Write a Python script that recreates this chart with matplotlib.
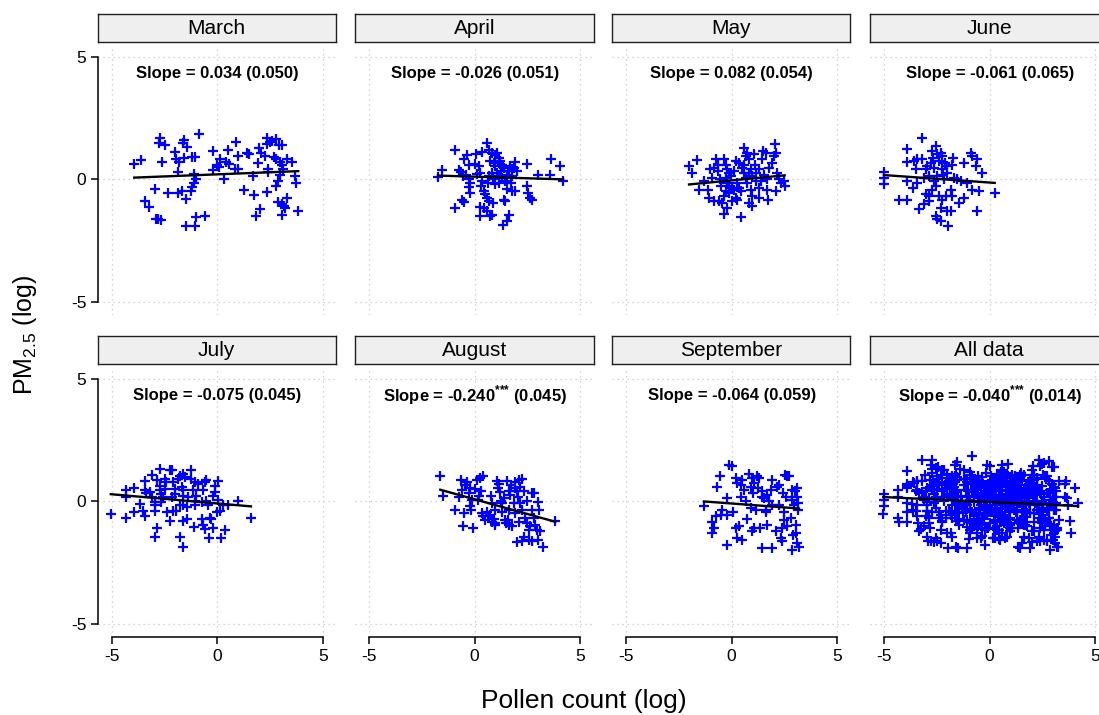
import matplotlib.pyplot as plt
import numpy as np

plt.rcParams['font.family'] = ['Liberation Sans', 'DejaVu Sans']
plt.rcParams['mathtext.fontset'] = 'custom'
plt.rcParams['mathtext.rm'] = 'Liberation Sans'
plt.rcParams['mathtext.bf'] = 'Liberation Sans:bold'
plt.rcParams['axes.unicode_minus'] = False

# panel titles and fit results (slope, s.e. from the labels; intercept)
panels = ['March', 'April', 'May', 'June', 'July', 'August', 'September', 'All data']
slope_labels = ['Slope = 0.034 (0.050)', 'Slope = -0.026 (0.051)', 'Slope = 0.082 (0.054)',
                'Slope = -0.061 (0.065)', 'Slope = -0.075 (0.045)',
                r'Slope = -0.240$^{\mathbf{{*}{*}{*}}}$ (0.045)', 'Slope = -0.064 (0.059)',
                r'Slope = -0.040$^{\mathbf{{*}{*}{*}}}$ (0.014)']
slopes = [0.034, -0.026, 0.082, -0.061, -0.075, -0.240, -0.064, -0.040]
intercepts = [0.21, 0.115, -0.037, -0.125, -0.08, 0.089, -0.082, -0.02]

march_x = [-3.93, -3.63, -2.72, -2.76, -2.45, -2.62, -2.01, -1.93, -1.82, -1.85, -1.56, -1.64, -1.41, -1.56,
           -1.17, -1.06, -0.85, -1.09, -0.98, -1.11, -1.17, -1.26, -2.95, -3.40, -3.24, -2.31, -1.85, -1.66,
           -1.50, -2.91, -2.80, -2.64, -1.50, -1.06, -0.98, -0.58, -0.19, -0.19, -0.03, 0.13, 0.08, 0.30,
           0.52, 0.44, 0.55, 0.84, 1.00, 0.88, 1.00, 1.42, 1.50, 1.26, 1.71, 1.74, 1.94, 1.99, 2.10, 2.26,
           2.34, 2.37, 2.50, 2.58, 2.81, 2.94, 3.05, 2.69, 2.81, 2.97, 3.05, 3.29, 3.55, 2.39, 2.42, 3.13,
           3.00, 2.89, 2.81, 2.34, 2.86, 3.05, 3.21, 3.29, 3.18, 2.02, 1.86, 3.08, 3.68, 3.73, 3.84]
march_y = [0.64, 0.79, 1.70, 1.50, 1.39, 0.72, 1.13, 0.84, 0.72, 0.30, 1.63, 1.50, 1.33, 0.88,
           0.91, 0.91, 1.85, 0.23, 0.03, -0.14, -0.31, -0.45, -0.38, -0.88, -1.13, -0.57, -0.54, -0.48,
           -0.78, -1.61, -1.63, -1.66, -1.90, -1.90, -1.54, -1.50, 1.16, 0.38, 0.61, 0.82, 0.50, 0.00,
           1.20, 0.71, 0.64, 0.41, 0.41, 1.54, 0.95, 1.09, 1.05, -0.41, 0.16, -0.65, 0.68, 1.27, 1.09, 0.95,
           1.70, 1.43, 1.52, 1.59, 1.66, 1.39, 1.39, 0.91, 0.84, 0.72, 0.61, 0.82, 0.73, 0.41, 0.31, 0.41,
           0.20, -0.07, -0.27, -0.52, -0.93, -1.02, -1.16, -0.75, -1.09, -1.22, -1.50, -1.47, 0.14, -0.16, -1.27]

april_x = [-1.74, -1.55, -0.95, -0.52, -0.36, -0.28, -0.76, -0.63, -0.57, -0.39, -0.28, -0.21, -0.25, -0.21,
           -0.60, -0.52, -0.92, 0.08, 0.35, 0.58, 0.66, 0.03, 0.19, 0.11, 0.27, 0.35, 0.32, 0.43, 0.51, 0.58,
           0.66, 0.43, 0.27, 0.27, 0.58, 0.74, 0.82, 0.85, 0.82, 0.95, 1.06, 1.14, 0.74, 0.90, 0.98, 1.14,
           1.22, 1.30, 1.37, 1.26, 1.06, 0.82, 0.66, 1.14, 1.30, 1.42, 1.14, 1.53, 1.69, 1.77, 1.93, 2.01,
           1.77, 1.74, 1.53, 1.77, 1.93, 1.37, 1.45, 1.64, 1.53, 1.34, 2.48, 2.48, 2.53, 2.64, 2.72, 3.00,
           3.55, 3.62, 4.06, 4.19, 0.63, 0.85, 0.98, 1.61, 1.85]
april_y = [0.10, 0.38, 1.20, 0.82, 0.98, 0.59, 0.37, 0.30, 0.14, 0.20, 0.00, -0.14, -0.30, -0.54,
           -0.82, -0.93, -1.16, 1.02, 1.12, 1.47, 1.20, 0.64, 0.57, 0.24, 0.27, -0.07, -0.27, -0.48, -0.61, -0.75,
           -0.88, -1.16, -1.12, -1.50, -1.29, -1.50, -1.43, -0.95, 1.09, 0.98, 1.09, 0.88, 0.75, 0.68, 0.54, 0.68,
           0.75, 0.61, 0.48, 0.34, 0.27, 0.27, 0.14, 0.14, 0.07, -0.07, -0.14, 0.20, 0.54, 0.41, 0.71, 0.34,
           0.14, -0.14, -0.38, -0.48, -0.48, -0.84, -0.88, -1.43, -1.70, -1.86, 0.65, -0.27, -0.54, -0.75, -0.82, 0.20,
           0.20, 0.82, 0.54, -0.07, -0.14, 0.03, -0.20, 0.34, 0.48]

may_x = [-2.02, -1.86, -1.63, -1.55, -1.31, -1.11, -1.03, -0.92, -0.84, -0.73, -0.63, -0.63, -0.57, -0.36,
         -0.28, -0.21, -0.13, -0.05, -0.25, -0.21, -0.28, -0.13, -0.36, -0.60, -1.07, -0.84, -0.44, -0.21,
         -0.36, 0.03, 0.19, 0.27, 0.43, 0.03, 0.11, 0.27, 0.35, 0.43, 0.19, 0.35, 0.47, 0.58, 0.66, 0.74,
         0.82, 0.58, 0.66, 0.74, 0.82, 0.90, 0.98, 1.06, 1.11, 1.14, 1.17, 0.90, 0.98, 0.82, 0.98, 1.30,
         1.30, 1.42, 1.49, 1.61, 1.66, 1.69, 1.72, 1.77, 1.93, 2.01, 2.04, 2.09, 2.09, 2.16, 2.24, 2.32,
         2.48, 2.51, 1.30, 1.53, 0.58, 1.37, 0.11, -0.13, -0.52]
may_y = [0.54, 0.27, 0.78, -0.41, -0.07, -0.41, 0.44, 0.07, 0.48, 0.82, 0.61, 0.34, 0.00, 0.82,
         0.61, 0.41, 0.27, 0.14, 0.07, -0.14, -0.48, -0.54, -0.68, -0.88, -0.75, -0.88, -0.95, -1.16,
         -1.40, -0.88, -0.75, -0.84, -1.52, -0.34, -0.41, -0.14, -0.34, -0.48, 0.75, 0.68, 0.48, 1.29, 0.95, 1.09,
         0.82, 0.27, 0.07, -0.14, 0.27, 0.41, 0.14, 1.02, 0.61, 0.27, -0.07, -0.41, -0.68, -0.95, -1.09, -0.75,
         -0.34, 0.82, 1.16, 1.09, 0.00, -0.41, -0.82, 0.48, 0.68, 0.95, 1.43, 1.09, -0.48, 0.27, 0.00, -0.14,
         -0.07, -0.27, 0.41, 0.20, 0.61, -0.07, 0.34, -0.27, -0.27]

june_x = [-5.01, -5.01, -5.01, -3.90, -3.90, -3.90, -4.30, -3.90, -3.62, -3.59, -3.43, -3.43, -3.22, -3.19,
          -3.35, -3.11, -3.03, -2.95, -2.88, -2.80, -2.72, -2.69, -2.64, -2.56, -2.64, -2.56, -2.72, -2.88,
          -2.88, -2.48, -2.40, -2.32, -2.24, -2.24, -2.20, -2.16, -2.13, -2.04, -2.01, -2.09, -2.24, -2.32,
          -2.56, -2.48, -2.32, -1.97, -2.04, -1.85, -1.85, -1.77, -1.72, -1.69, -1.77, -1.45, -1.22, -1.22,
          -1.06, -0.90, -0.82, -0.82, -0.66, -0.58, -0.51, -0.35, -0.58, 0.24, -3.51, -3.11, -2.48, -1.53,
          -1.37, -3.03, -2.40]
june_y = [0.30, 0.07, -0.20, 1.25, 0.71, -0.07, -0.82, -0.82, -0.34, 0.75, 0.82, -0.14, 1.70, 0.82,
          -1.22, -1.02, -0.61, 0.54, 0.14, 0.68, 1.16, 0.88, 0.48, 1.36, -0.07, -0.27, -0.41, -0.68,
          -0.88, 1.02, 0.75, 1.09, 0.95, 0.41, 0.20, 0.00, 0.68, 0.54, 0.27, -0.68, -0.82, -1.16,
          -1.50, -1.63, -1.70, -1.88, -1.29, -1.29, -0.41, 0.61, 0.88, 0.07, -0.68, -0.95, -0.75, 0.68,
          -0.14, 1.09, 0.95, -0.41, 0.54, 0.82, -0.48, 0.27, -1.29, -0.54, 0.41, 0.07, 0.14, 0.00,
          -0.07, 0.41, -0.68]

july_x = [-5.04, -4.33, -4.33, -4.33, -3.93, -3.67, -3.93, -3.51, -3.43, -3.43, -3.43, -3.35, -3.19, -3.08,
          -2.95, -2.95, -2.95, -2.84, -2.95, -2.72, -2.83, -2.72, -2.72, -2.64, -2.56, -2.48, -2.43, -2.40,
          -2.24, -2.24, -2.16, -2.09, -2.01, -2.01, -2.09, -1.93, -1.85, -1.77, -1.69, -1.61, -1.53, -1.61,
          -1.61, -1.77, -1.61, -1.45, -1.77, -1.61, -1.61, -1.45, -1.22, -1.22, -1.14, -1.06, -1.06, -1.06,
          -0.98, -1.09, -0.74, -0.66, -0.58, -0.90, -0.58, -0.51, -0.66, -0.51, -0.43, -0.35, -0.27, -0.19,
          -0.39, -0.19, -0.11, -0.11, 0.05, 0.02, -0.03, 0.13, 0.36, 0.17, 0.28, 0.52, 1.00, 1.60, -2.48,
          -2.16, -1.37, -0.74, -3.11, -2.64]
july_y = [-0.53, 0.48, 0.18, -0.68, 0.56, -0.12, -0.41, -0.37, -0.61, 0.83, 0.48, 0.34, 0.38, 1.10,
          -0.39, -0.03, -0.16, -1.07, -1.46, 1.33, 0.86, 0.65, 0.45, 0.31, 0.18, 0.52, 0.79, -0.44,
          -0.78, 1.27, 1.27, 0.79, 0.52, 0.31, -0.37, -0.37, 0.93, 1.06, 0.59, 1.13, 0.99, 0.45,
          0.24, -0.16, -0.16, -0.23, -1.43, -1.86, -0.78, -0.71, 1.27, 0.93, 0.45, 0.79, 0.04, -0.16,
          0.24, -1.05, -0.71, -0.98, -1.12, 0.72, 0.79, 0.86, 0.45, 0.04, -0.16, -0.67, -0.71, -1.07,
          -1.48, 0.24, 0.65, 0.38, 0.83, 0.07, -0.44, -0.37, -1.18, -1.48, -0.16, -0.16, 0.04, -0.68, 0.93,
          0.18, 0.18, -0.03, 0.18, -0.03]

august_x = [-1.63, -1.52, -0.95, -0.63, -0.60, -0.57, -0.52, -0.44, -0.36, -0.28, -0.21, -0.21, -0.16, -0.09,
            0.00, 0.11, 0.16, 0.22, 0.27, 0.32, 0.39, 0.35, 0.38, 0.51, 0.58, 0.63, 0.74, 0.79, 0.82, 0.90,
            0.95, 0.98, 1.06, 1.11, 1.17, 1.22, 1.26, 1.30, 1.37, 1.42, 1.49, 1.58, 1.61, 1.53, 1.61, 1.69,
            1.74, 1.85, 1.90, 1.93, 2.01, 2.05, 2.09, 2.16, 2.16, 2.24, 2.32, 2.40, 2.48, 2.48, 2.56, 2.64,
            2.72, 2.80, 2.72, 2.80, 2.88, 2.95, 3.00, 3.03, 3.11, 3.00, 2.56, 2.32, 2.24, 2.01, 2.72, 3.24,
            1.77, 1.93, 2.09, -0.76, -0.13, 0.82, 0.98, 1.30, 1.61, 2.24, 3.82]
august_y = [1.06, 0.23, -0.34, 0.88, 0.48, -0.99, -0.48, 0.68, 0.78, 0.34, 0.54, -0.20, -0.34, -1.09,
            0.50, 0.88, 0.07, 0.23, 0.95, 0.41, 1.05, -0.48, -0.61, -0.75, -0.41, -0.61, -0.54, 0.23, -0.82, -0.72,
            -0.88, -0.95, 0.82, 0.54, 0.72, 0.37, 0.00, -0.07, 0.14, -0.75, -0.88, -0.75, -0.95, 0.82, 0.41, 0.27,
            0.68, -0.07, 0.54, 0.78, 0.41, 0.20, 0.88, 0.61, -0.07, 0.91, 0.41, -0.68, 0.00, -0.88, -1.16, -1.02,
            0.34, 0.34, -0.34, -0.68, -0.95, -1.16, -0.04, -0.34, -1.22, -1.56, -1.56, -1.43, -1.63, -1.67, -1.63, -1.86,
            -1.02, -0.48, -0.82, 0.20, 0.07, -0.07, -0.34, -0.41, -0.34, -0.34, -0.78]

september_x = [-1.31, -0.95, -0.92, -0.84, -0.76, -0.68, -0.57, -0.52, -0.44, -0.21, -0.21, -0.21, -0.13, 0.03,
               0.06, 0.19, 0.22, 0.27, 0.27, 0.35, 0.43, 0.43, 0.47, 0.51, 0.58, 0.66, 0.74, 0.82, 0.90, 0.90,
               0.95, 0.98, 1.01, 1.06, 1.06, 1.14, 1.22, 1.26, 1.30, 1.34, 1.42, 1.45, 1.42, 1.53, 1.61, 1.64,
               1.69, 1.69, 1.77, 1.85, 1.90, 1.93, 1.93, 2.09, 2.16, 2.24, 2.24, 2.32, 2.37, 2.40, 2.43, 2.48,
               2.48, 2.53, 2.56, 2.64, 2.64, 2.72, 2.80, 2.88, 2.88, 2.91, 2.95, 3.00, 3.03, 3.03, 3.08, 3.11,
               3.16, 3.16, 3.19, 2.88, 3.11]
september_y = [-0.20, -0.82, -1.27, -1.09, -0.61, 0.61, 1.02, -0.54, -0.34, -0.54, 0.14, -1.77, 1.50, 1.46,
               -0.41, 0.95, -1.09, 0.75, -1.50, -0.99, 0.68, 0.20, -1.56, 0.88, 0.48, 0.00, -0.72, 1.13, 0.61, -0.27,
               -1.22, 0.95, 0.34, 0.75, -1.09, -0.34, 1.02, 0.54, 0.95, -1.09, 0.41, -1.90, 0.20, 0.14, -0.34, -0.41,
               -0.95, 0.27, 0.00, 0.48, -1.90, 0.88, -0.14, -1.22, 0.61, 0.68, -0.14, -1.50, -1.09, -1.63, 0.34, -0.41,
               -0.75, 1.09, 0.20, 1.02, -1.02, 1.02, -0.68, 0.48, 0.07, -1.36, -0.14, 0.41, -0.95, -1.29, 0.20, 0.54,
               -0.07, -0.34, -1.84, -1.97, -1.70]

month_x = [march_x, april_x, may_x, june_x, july_x, august_x, september_x]
month_y = [march_y, april_y, may_y, june_y, july_y, august_y, september_y]
all_x = np.concatenate(month_x)
all_y = np.concatenate(month_y)
data_x = month_x + [all_x]
data_y = month_y + [all_y]

W, H = 1099, 715
fig = plt.figure(figsize=(W / 100, H / 100), dpi=100)


def px_axes(left, top, width, height):
    return fig.add_axes([left / W, 1 - (top + height) / H, width / W, height / H])


col_left = [97.5, 355, 612, 870]
row_top = [44.75, 366.75]
ax_w, ax_h = 238.5, 270.7

for i, name in enumerate(panels):
    r, c = divmod(i, 4)
    ax = px_axes(col_left[c], row_top[r], ax_w, ax_h)
    x = np.asarray(data_x[i])
    y = np.asarray(data_y[i])

    ax.scatter(x, y, marker='+', s=58, linewidths=1.6, color='#0000ff', zorder=3)
    xs = np.array([x.min(), x.max()])
    ax.plot(xs, intercepts[i] + slopes[i] * xs, color='black', lw=1.7, zorder=4)

    ax.text(0, 4.33, slope_labels[i], ha='center', va='center', fontsize=12, fontweight='bold')

    ax.set_xlim(-5.67, 5.63)
    ax.set_ylim(-5.55, 5.5)
    ax.set_xticks([-5, 0, 5])
    ax.set_yticks([-5, 0, 5])
    ax.grid(True, color='#c8c8c8', lw=0.9, ls=(0, (1, 3)))
    ax.set_axisbelow(True)
    for s in ax.spines.values():
        s.set_visible(False)
    ax.tick_params(direction='out', length=5, width=1.1, labelsize=12.5, pad=3)
    if c == 0:
        ax.spines['left'].set_visible(True)
        ax.spines['left'].set_bounds(-5, 5)
        ax.spines['left'].set_linewidth(1.1)
    else:
        ax.tick_params(axis='y', length=0, labelleft=False)
    if r == 1:
        ax.spines['bottom'].set_visible(True)
        ax.spines['bottom'].set_bounds(-5, 5)
        ax.spines['bottom'].set_linewidth(1.1)
    else:
        ax.tick_params(axis='x', length=0, labelbottom=False)

    # strip above each panel
    sax = px_axes(col_left[c], row_top[r] - 30.75, ax_w, 28)
    sax.set_facecolor('#efefef')
    sax.set_xticks([])
    sax.set_yticks([])
    for s in sax.spines.values():
        s.set_linewidth(1.0)
        s.set_color('#202020')
    sax.text(0.5, 0.5, name, ha='center', va='center', fontsize=15, transform=sax.transAxes)

fig.text(25 / W, 1 - 335 / H, 'PM$_{2.5}$ (log)', rotation=90, ha='center', va='center', fontsize=18)
fig.text(584 / W, 1 - 701 / H, 'Pollen count (log)', ha='center', va='center', fontsize=19)

plt.savefig('out.png', dpi=100)
